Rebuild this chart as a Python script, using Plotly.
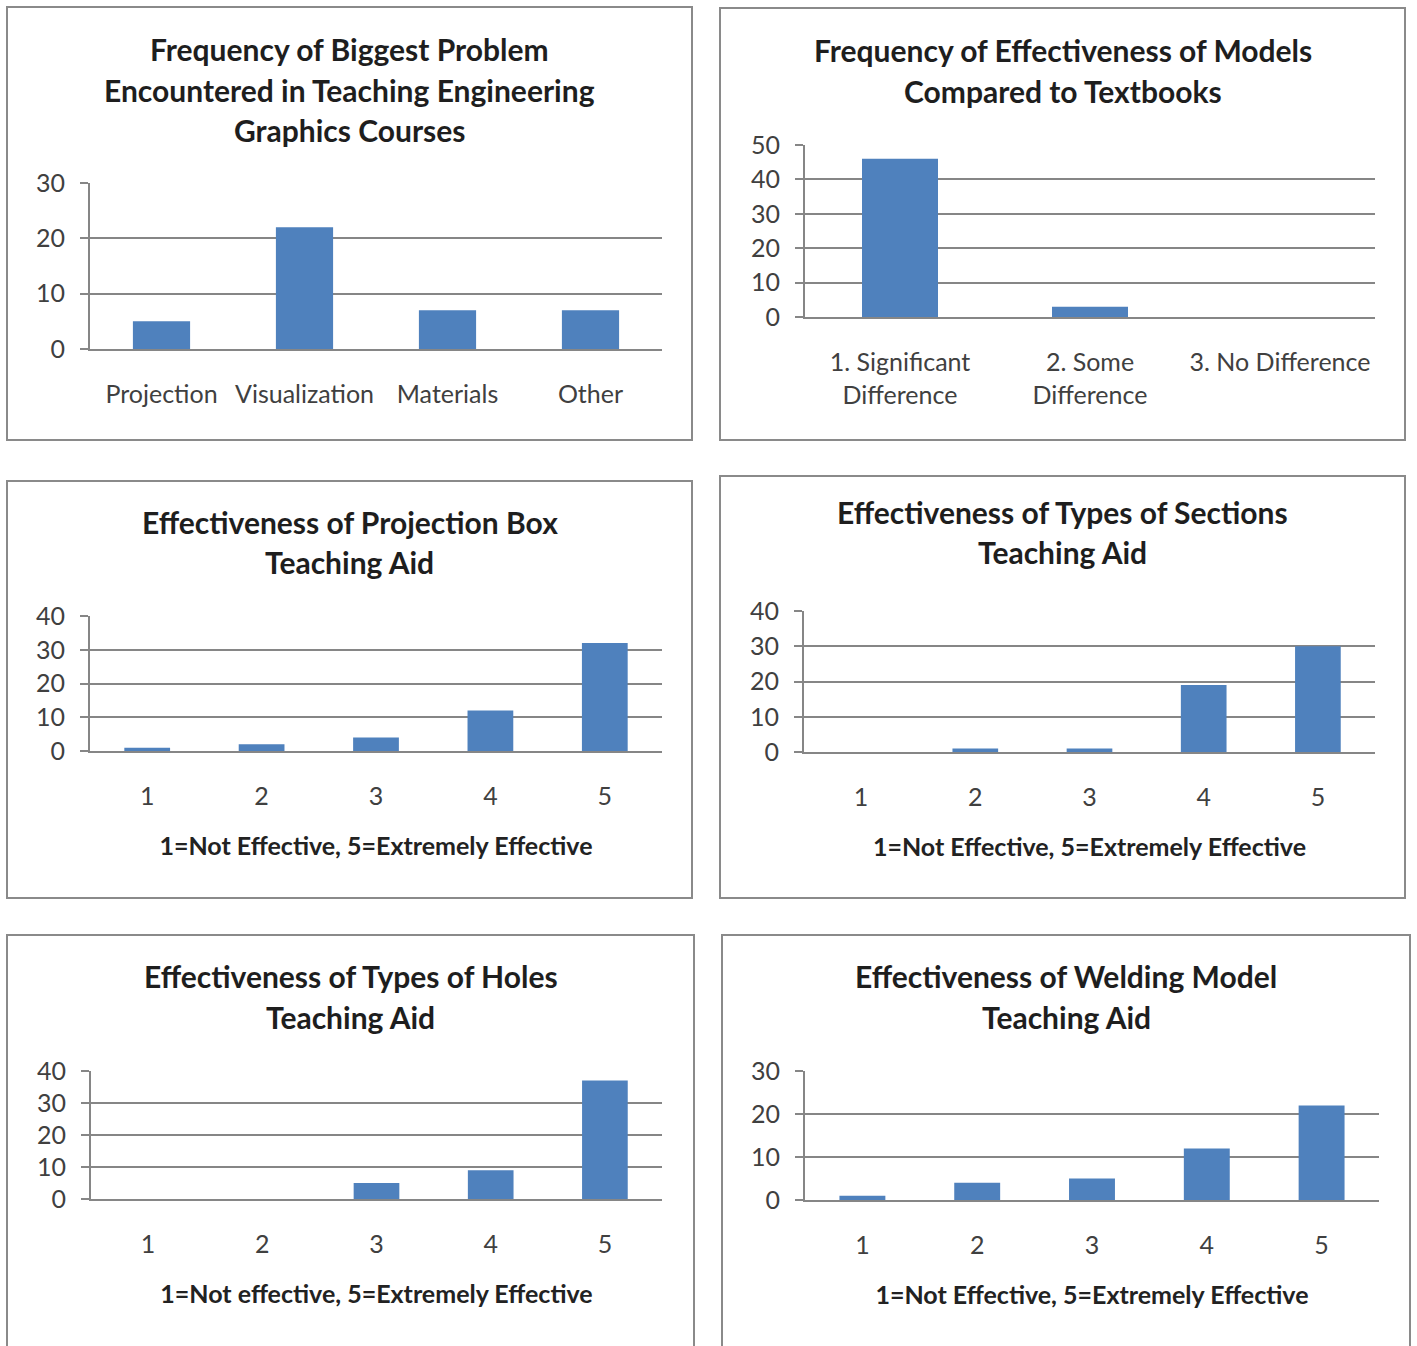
import plotly.graph_objects as go

W, H = 1417, 1346

# ---- data ----
problem_cats = ["Projection", "Visualization", "Materials", "Other"]
problem_vals = [5, 22, 7, 7]

models_cats = ["1. Significant<br>Difference", "2. Some<br>Difference", "3. No Difference"]
models_vals = [46, 3, 0]

scale_cats = ["1", "2", "3", "4", "5"]
projection_box_vals = [1, 2, 4, 12, 32]
sections_vals = [0, 1, 1, 19, 30]
holes_vals = [0, 0, 5, 9, 37]
welding_vals = [1, 4, 5, 12, 22]

titles = [
    ["Frequency of Biggest Problem", "Encountered in Teaching Engineering", "Graphics Courses"],
    ["Frequency of Effectiveness of Models", "Compared to Textbooks"],
    ["Effectiveness of Projection Box", "Teaching Aid"],
    ["Effectiveness of Types of Sections", "Teaching Aid"],
    ["Effectiveness of Types of Holes", "Teaching Aid"],
    ["Effectiveness of Welding Model", "Teaching Aid"],
]
axis_titles = [None, None,
               "1=Not Effective, 5=Extremely Effective",
               "1=Not Effective, 5=Extremely Effective",
               "1=Not effective, 5=Extremely Effective",
               "1=Not Effective, 5=Extremely Effective"]
y_max = [30, 50, 40, 40, 40, 30]

# ---- layout geometry (pixels) ----
panels = [(7, 7, 692, 440), (720, 8, 1405, 440),
          (7, 481, 692, 898), (720, 476, 1405, 898),
          (7, 935, 694, 1360), (722, 935, 1410, 1360)]
plots = [(90, 183, 662, 349), (805, 145, 1375, 317),
         (90, 616, 662, 751), (804, 611, 1375, 752),
         (91, 1071, 662, 1199), (805, 1071, 1379, 1200)]
title_y = [[49, 90, 130], [50, 91], [522, 562], [512, 552], [976, 1017], [976, 1017]]

def px(x):
    return x / W

def py(y):
    return 1 - y / H

BAR = "#4F81BD"
GRID = "#868686"
TXT = "#404040"
FONT = "Lato"

data_sets = [(problem_cats, problem_vals), (models_cats, models_vals),
             (scale_cats, projection_box_vals), (scale_cats, sections_vals),
             (scale_cats, holes_vals), (scale_cats, welding_vals)]

fig = go.Figure()
layout = dict(width=W, height=H, margin=dict(l=0, r=0, t=0, b=0, autoexpand=False),
              paper_bgcolor="white", plot_bgcolor="white", showlegend=False,
              bargap=0.6, shapes=[], annotations=[])

for i, (cats, vals) in enumerate(data_sets):
    n = "" if i == 0 else str(i + 1)
    fig.add_trace(go.Bar(x=cats, y=vals, marker=dict(color=BAR, line=dict(width=0)),
                         xaxis="x" + n, yaxis="y" + n))
    x0, y0, x1, y1 = plots[i]
    xa = dict(domain=[px(x0), px(x1)], anchor="y" + n, showline=True, linecolor=GRID,
              linewidth=2, ticks="", showgrid=False, ticklabelstandoff=22, automargin=False,
              tickfont=dict(family=FONT, size=25, color=TXT), fixedrange=True)
    if axis_titles[i]:
        xa["title"] = dict(text="<b>" + axis_titles[i] + "</b>", standoff=28,
                           font=dict(family=FONT, size=25, color="#222"))
    ya = dict(domain=[py(y1), py(y0)], anchor="x" + n, range=[0, y_max[i]], dtick=10,
              showgrid=True, gridcolor=GRID, gridwidth=2, showline=True, linecolor=GRID,
              linewidth=2, ticks="outside", ticklen=8, tickwidth=2, tickcolor=GRID,
              zeroline=False, ticklabelstandoff=10, automargin=False,
              tickfont=dict(family=FONT, size=25, color=TXT), fixedrange=True)
    layout["xaxis" + n] = xa
    layout["yaxis" + n] = ya

    bx0, by0, bx1, by1 = panels[i]
    layout["shapes"].append(dict(type="rect", xref="paper", yref="paper",
                                 x0=px(bx0), x1=px(bx1), y0=py(by1), y1=py(by0),
                                 line=dict(color="#8a8a8a", width=2), layer="below"))
    cx = (bx0 + bx1) / 2
    for line, ty in zip(titles[i], title_y[i]):
        layout["annotations"].append(dict(text="<b>" + line + "</b>", x=px(cx), y=py(ty),
                                          xref="paper", yref="paper", showarrow=False,
                                          xanchor="center", yanchor="middle",
                                          font=dict(family=FONT, size=30, color="#1e1e1e")))

fig.update_layout(**layout)
fig.write_html("out.html")
